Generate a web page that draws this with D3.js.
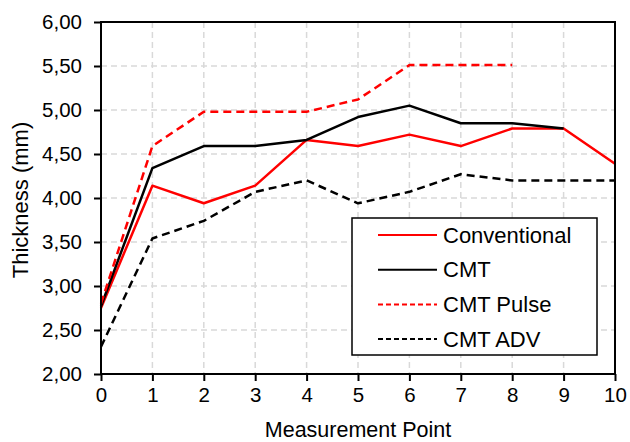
<!DOCTYPE html>
<html><head><meta charset="utf-8">
<script src="https://cdn.jsdelivr.net/npm/d3@7/dist/d3.min.js"></script>
<style>body{margin:0;background:#fff}svg{display:block}text{font-family:"Liberation Sans",Arial,sans-serif;fill:#000}</style>
</head><body><svg id="c" width="630" height="442"></svg>
<script>
const points = [0,1,2,3,4,5,6,7,8,9,10];
const conventional = [2.75,4.14,3.94,4.14,4.66,4.59,4.72,4.59,4.79,4.79,4.39];
const cmt = [2.77,4.34,4.59,4.59,4.66,4.92,5.05,4.85,4.85,4.79,null];
const cmtPulse = [2.80,4.59,4.98,4.98,4.98,5.12,5.51,5.51,5.51,null,null];
const cmtAdv = [2.31,3.54,3.74,4.07,4.20,3.94,4.07,4.27,4.20,4.20,4.20];
const yTicks = [2,2.5,3,3.5,4,4.5,5,5.5,6];
const seriesNames = ["Conventional","CMT","CMT Pulse","CMT ADV"];
const seriesColors = ["#ff0000","#000000","#ff0000","#000000"];
const seriesDashed = [false,false,true,true];
const seriesValues = [conventional,cmt,cmtPulse,cmtAdv];

const svg = d3.select("#c");
const L=101,R=615,T=22,B=374;
const x = d3.scaleLinear().domain([0,10]).range([L,R]);
const y = d3.scaleLinear().domain([2,6]).range([B,T]);
const fmt = v => d3.format(".2f")(v).replace(".",",");

// grid
const g = svg.append("g");
g.selectAll("line.v").data(points.slice(1,-1)).enter().append("line")
 .attr("x1",d=>x(d)).attr("x2",d=>x(d)).attr("y1",T).attr("y2",B)
 .attr("stroke","#d9d9d9").attr("stroke-width",1.5).attr("stroke-dasharray","6,4");
g.selectAll("line.h").data(yTicks.slice(1,-1)).enter().append("line")
 .attr("x1",L).attr("x2",R).attr("y1",d=>y(d)).attr("y2",d=>y(d))
 .attr("stroke","#d9d9d9").attr("stroke-width",1.5).attr("stroke-dasharray","6,4");

// lines
const line = d3.line().defined(d=>d[1]!=null).x(d=>x(d[0])).y(d=>y(d[1]));
seriesValues.forEach((vals,i)=>{
  svg.append("path").datum(points.map((p,j)=>[p,vals[j]]))
   .attr("d",line).attr("fill","none").attr("stroke",seriesColors[i])
   .attr("stroke-width",2.5).attr("stroke-linejoin","round")
   .attr("stroke-dasharray",seriesDashed[i]?"8,5":null);
});

// border
svg.append("rect").attr("x",L).attr("y",T).attr("width",R-L).attr("height",B-T)
 .attr("fill","none").attr("stroke","#000").attr("stroke-width",2);

// axes
const xa = svg.append("g").attr("transform",`translate(0,${B})`)
 .call(d3.axisBottom(x).tickValues(points).tickFormat(d3.format("d")).tickSize(7).tickPadding(6));
const ya = svg.append("g").attr("transform",`translate(${L},0)`)
 .call(d3.axisLeft(y).tickValues(yTicks).tickFormat(fmt).tickSize(7).tickPadding(12));
[xa,ya].forEach(a=>{
  a.select(".domain").remove();
  a.selectAll(".tick line").attr("stroke","#000").attr("stroke-width",2);
  a.selectAll(".tick text").style("font-size","20.5px").attr("font-family","Liberation Sans, Arial, sans-serif");
});

// titles
svg.append("text").attr("x",(L+R)/2).attr("y",437).attr("text-anchor","middle")
 .style("font-size","21.5px").text("Measurement Point");
svg.append("text").attr("transform",`translate(28,${(T+B)/2+2}) rotate(-90)`).attr("text-anchor","middle")
 .style("font-size","22px").text("Thickness (mm)");

// legend
const lg = svg.append("g");
lg.append("rect").attr("x",352).attr("y",218).attr("width",245).attr("height",137)
 .attr("fill","#fff").attr("stroke","#000").attr("stroke-width",1.5);
seriesNames.forEach((n,i)=>{
  const yy = 235 + i*34.7;
  lg.append("line").attr("x1",378).attr("x2",437).attr("y1",yy).attr("y2",yy)
   .attr("stroke",seriesColors[i]).attr("stroke-width",2)
   .attr("stroke-dasharray",seriesDashed[i]?"5,3":null);
  lg.append("text").attr("x",443).attr("y",yy).attr("dy","0.35em")
   .style("font-size","22px").text(n);
});
</script></body></html>
